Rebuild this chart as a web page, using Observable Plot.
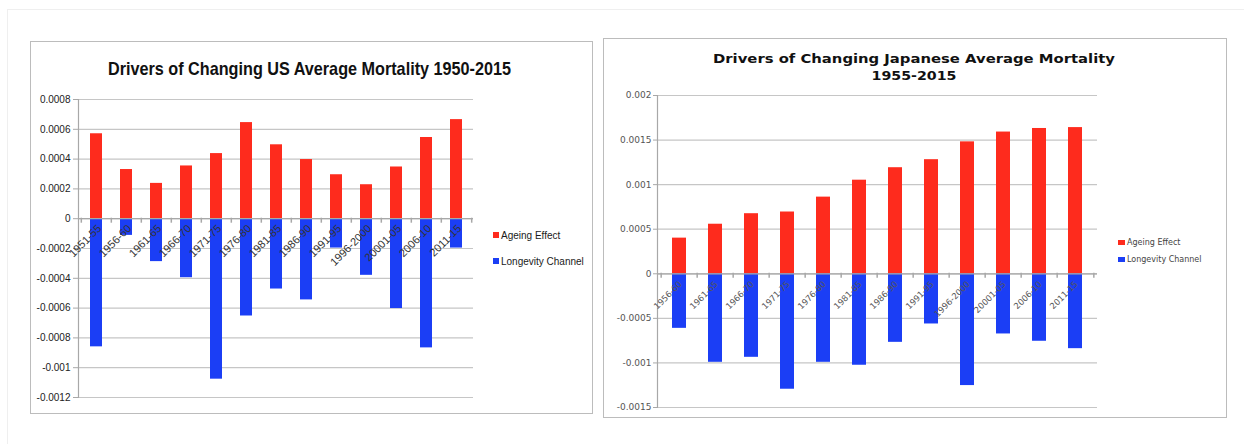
<!DOCTYPE html>
<html>
<head>
<meta charset="utf-8">
<script src="https://cdn.jsdelivr.net/npm/d3@7"></script>
<script src="https://cdn.jsdelivr.net/npm/@observablehq/plot@0.6"></script>
<style>
html, body { margin: 0; padding: 0; background: #fff; }
#page { position: relative; width: 1244px; height: 444px; overflow: hidden; background: #fff; }
.abs { position: absolute; }
.box { position: absolute; border: 1.5px solid #bcbcbc; box-sizing: border-box; }
.frameL { position: absolute; left: 7px; top: 9px; width: 1px; height: 435px; background: #efefef; }
.frameT { position: absolute; left: 7px; top: 9px; width: 1237px; height: 1px; background: #efefef; }
.leg { position: absolute; white-space: nowrap; display: flex; align-items: center; }
.sw { display: inline-block; }
</style>
</head>
<body>
<div id="page">
  <div class="frameL"></div><div class="frameT"></div>
  <div class="box" style="left:30px;top:41px;width:563px;height:373px;"></div>
  <div class="box" style="left:603px;top:38px;width:624px;height:380px;"></div>
</div>
<script>
// ---------- Data ----------
const usPeriods = ["1951-55","1956-60","1961-65","1966-70","1971-75","1976-80","1981-85","1986-90","1991-95","1996-2000","20001-05","2006-10","2011-15"];
const usAgeing = [0.00057, 0.00033, 0.000237, 0.000354, 0.000437, 0.000645, 0.000496, 0.000397, 0.000295, 0.000228, 0.000347, 0.000545, 0.000665];
const usLongevity = [-0.00086, -0.000112, -0.000288, -0.000396, -0.001077, -0.000653, -0.000472, -0.000545, -0.000197, -0.00038, -0.000603, -0.000867, -0.000197];
const usTicks = [-0.0012, -0.001, -0.0008, -0.0006, -0.0004, -0.0002, 0, 0.0002, 0.0004, 0.0006, 0.0008];

const jpPeriods = ["1956-60","1961-65","1966-70","1971-75","1976-80","1981-85","1986-90","1991-95","1996-2000","20001-05","2006-10","2011-15"];
const jpAgeing = [0.0004, 0.000556, 0.000674, 0.000693, 0.00086, 0.00105, 0.00119, 0.00128, 0.00148, 0.00159, 0.00163, 0.00164];
const jpLongevity = [-0.000612, -0.000993, -0.000937, -0.001295, -0.000993, -0.001026, -0.000769, -0.000563, -0.001254, -0.000675, -0.000757, -0.00084];
const jpTicks = [-0.0015, -0.001, -0.0005, 0, 0.0005, 0.001, 0.0015, 0.002];

const seriesNames = ["Ageing Effect", "Longevity Channel"];
const usTitle = "Drivers of Changing US Average Mortality 1950-2015";
const jpTitle = ["Drivers of Changing Japanese Average Mortality", "1955-2015"];

const RED = "#fe2b1d", BLUE = "#1b3ef5";
const fmt = d => String(+(+d).toFixed(4));
const tickSym = {draw(ctx) { ctx.moveTo(0, -1); ctx.lineTo(0, 4); }};

function chart({periods, ageing, longevity, ticks, width, height, mL, mR, mT, mB, font, tickFont, tickColor, tickSize, tickPad, lblFont, lblColor, lblDx, lblDy}) {
  const rows = periods.map((p, i) => ({period: p, ageing: ageing[i], longevity: longevity[i]}));
  const step = (width - mL - mR) / periods.length;
  return Plot.plot({
    width, height,
    marginLeft: mL, marginRight: mR, marginTop: mT, marginBottom: mB,
    style: {background: "transparent", fontFamily: font, overflow: "visible"},
    x: {type: "band", domain: periods, paddingInner: 0.6, paddingOuter: 0.3, axis: null},
    y: {domain: [ticks[0], ticks[ticks.length - 1]], axis: null},
    marks: [
      Plot.gridY(ticks, {stroke: "#c6c6c6", strokeOpacity: 1, strokeWidth: 1.2}),
      Plot.axisY(ticks, {tickSize, tickPadding: tickPad, stroke: "#a8a8a8", tickFormat: fmt, fontSize: tickFont, fill: tickColor}),
      Plot.frame({anchor: "left", stroke: "#a8a8a8", strokeWidth: 1.2}),
      Plot.barY(rows, {x: "period", y: "ageing", fill: RED}),
      Plot.barY(rows, {x: "period", y: "longevity", fill: BLUE}),
      Plot.ruleY([0], {stroke: "#a8a8a8", strokeWidth: 1.2}),
      Plot.dot(rows, {x: "period", y: () => 0, symbol: tickSym, stroke: "#a8a8a8", fill: "none", dx: -step / 2}),
      Plot.dot([periods[periods.length - 1]], {x: d => d, y: () => 0, symbol: tickSym, stroke: "#a8a8a8", fill: "none", dx: step / 2}),
      Plot.text(rows, {x: "period", y: () => 0, text: "period", rotate: -45, textAnchor: "end", dx: lblDx, dy: lblDy, fontSize: lblFont, fill: lblColor})
    ]
  });
}

const page = document.getElementById("page");

const us = chart({periods: usPeriods, ageing: usAgeing, longevity: usLongevity, ticks: usTicks,
  width: 600, height: 420, mL: 78, mR: 127, mT: 99, mB: 23,
  font: "'Liberation Sans', Arial, sans-serif", tickFont: 10, tickColor: "#222", tickSize: 5, tickPad: 3,
  lblFont: 11, lblColor: "#333", lblDx: 3, lblDy: 8});
const usWrap = document.createElement("div");
usWrap.className = "abs"; usWrap.style.left = "0px"; usWrap.style.top = "0px"; usWrap.style.width = "600px";
usWrap.appendChild(us); page.appendChild(usWrap);

const jp = chart({periods: jpPeriods, ageing: jpAgeing, longevity: jpLongevity, ticks: jpTicks,
  width: 640, height: 430, mL: 57, mR: 143, mT: 95, mB: 23,
  font: "'DejaVu Sans', Verdana, sans-serif", tickFont: 9, tickColor: "#555", tickSize: 4, tickPad: 2,
  lblFont: 8.5, lblColor: "#555", lblDx: 1, lblDy: 9});
const jpWrap = document.createElement("div");
jpWrap.className = "abs"; jpWrap.style.left = "600px"; jpWrap.style.top = "0px"; jpWrap.style.width = "640px";
jpWrap.appendChild(jp); page.appendChild(jpWrap);

// ---------- Legends ----------
function legend(x, y, gap, font, size, color, sw) {
  [RED, BLUE].forEach((c, i) => {
    const d = document.createElement("div");
    d.className = "leg";
    d.style.left = x + "px"; d.style.top = (y + i * gap) + "px";
    d.style.fontFamily = font; d.style.fontSize = size + "px"; d.style.color = color; d.style.height = "12px";
    const s = document.createElement("span");
    s.className = "sw"; s.style.background = c; s.style.width = sw[0] + "px"; s.style.height = sw[1] + "px"; s.style.marginRight = "2px";
    d.appendChild(s);
    d.appendChild(document.createTextNode(seriesNames[i]));
    page.appendChild(d);
  });
}
legend(493, 229, 26, "'Liberation Sans', Arial, sans-serif", 10, "#1a1a1a", [6, 6]);
legend(1118, 236, 17, "'DejaVu Sans', Verdana, sans-serif", 8, "#444", [7, 5]);

// ---------- Titles ----------
const NS = "http://www.w3.org/2000/svg";
const tsvg = document.createElementNS(NS, "svg");
tsvg.setAttribute("width", 1244); tsvg.setAttribute("height", 100);
tsvg.setAttribute("class", "abs"); tsvg.style.left = "0px"; tsvg.style.top = "0px";
function addTitle(txt, x, y, len, font, size) {
  const t = document.createElementNS(NS, "text");
  t.setAttribute("x", x); t.setAttribute("y", y);
  t.setAttribute("text-anchor", "middle");
  t.setAttribute("font-family", font); t.setAttribute("font-size", size); t.setAttribute("font-weight", "bold");
  t.setAttribute("fill", "#111");
  t.setAttribute("textLength", len); t.setAttribute("lengthAdjust", "spacingAndGlyphs");
  t.textContent = txt;
  tsvg.appendChild(t);
}
addTitle(usTitle, 309.5, 75, 403, "'Liberation Sans', Arial, sans-serif", 18.5);
addTitle(jpTitle[0], 914, 62.5, 402, "'DejaVu Sans', Verdana, sans-serif", 13);
addTitle(jpTitle[1], 914, 79.5, 85, "'DejaVu Sans', Verdana, sans-serif", 13);
page.appendChild(tsvg);
</script>
</body>
</html>
